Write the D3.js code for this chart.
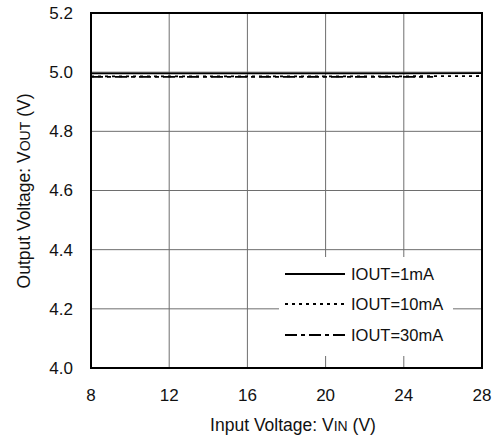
<!DOCTYPE html>
<html><head><meta charset="utf-8">
<script src="https://cdn.jsdelivr.net/npm/d3@7"></script>
<style>body{margin:0;background:#fff}svg{font-family:"Liberation Sans",Arial,sans-serif}</style>
</head><body><svg id="c" width="500" height="440"></svg>
<script>
const xTicks = [8, 12, 16, 20, 24, 28];
const yTicks = [4.0, 4.2, 4.4, 4.6, 4.8, 5.0, 5.2];
const vin1 = [8, 12, 16, 20, 24, 28];
const vout1 = [4.996, 4.996, 4.996, 4.996, 4.996, 4.997];
const vin10 = [8, 12, 16, 20, 24, 28];
const vout10 = [4.986, 4.986, 4.986, 4.986, 4.986, 4.987];
const vin30 = [8, 12, 16, 20, 24, 25.5];
const vout30 = [4.984, 4.984, 4.984, 4.984, 4.984, 4.984];
const seriesNames = ["IOUT=1mA", "IOUT=10mA", "IOUT=30mA"];

const svg = d3.select("#c");
const L = 91, R = 482, T = 13, B = 368;
const x = d3.scaleLinear().domain([8, 28]).range([L, R]);
const y = d3.scaleLinear().domain([4.0, 5.2]).range([B, T]);

// grid
svg.append("g").selectAll("line").data(xTicks.slice(1, -1)).join("line")
  .attr("x1", d => x(d)).attr("x2", d => x(d)).attr("y1", T).attr("y2", B)
  .attr("stroke", "#6e6e6e").attr("stroke-width", 1);
svg.append("g").selectAll("line").data(yTicks.slice(1, -1)).join("line")
  .attr("y1", d => y(d)).attr("y2", d => y(d)).attr("x1", L).attr("x2", R)
  .attr("stroke", "#6e6e6e").attr("stroke-width", 1);

// series
const line = d3.line().x(d => x(d[0])).y(d => y(d[1]));
const series = [
  {xs: vin1, ys: vout1, dash: null},
  {xs: vin10, ys: vout10, dash: "3,4"},
  {xs: vin30, ys: vout30, dash: "12,4,4,4"}
];
series.forEach(s => {
  svg.append("path").datum(s.xs.map((v, i) => [v, s.ys[i]]))
    .attr("d", line).attr("fill", "none").attr("stroke", "#000")
    .attr("stroke-width", 1.8).attr("stroke-dasharray", s.dash);
});

// legend
svg.append("rect").attr("x", 279).attr("y", 257).attr("width", 174).attr("height", 99).attr("fill", "#fff");
const legY = [274, 304, 335];
series.forEach((s, i) => {
  svg.append("line").attr("x1", 285).attr("x2", 345).attr("y1", legY[i]).attr("y2", legY[i])
    .attr("stroke", "#000").attr("stroke-width", 1.8).attr("stroke-dasharray", s.dash);
  svg.append("text").attr("x", 351).attr("y", legY[i]).attr("dy", "0.35em")
    .attr("font-size", 16.5).attr("fill", "#111").text(seriesNames[i]);
});

// border
svg.append("rect").attr("x", L).attr("y", T).attr("width", R - L).attr("height", B - T)
  .attr("fill", "none").attr("stroke", "#000").attr("stroke-width", 2);

// tick labels
svg.append("g").selectAll("text").data(yTicks).join("text")
  .attr("x", 73).attr("y", d => y(d)).attr("dy", "0.35em").attr("text-anchor", "end")
  .attr("font-size", 17).attr("fill", "#111").text(d => d3.format(".1f")(d));
svg.append("g").selectAll("text").data(xTicks).join("text")
  .attr("x", d => x(d)).attr("y", 395).attr("dy", "0.35em").attr("text-anchor", "middle")
  .attr("font-size", 17).attr("fill", "#111").text(d => d);

// axis titles
const xt = svg.append("text").attr("x", 293).attr("y", 425).attr("dy", "0.35em")
  .attr("text-anchor", "middle").attr("font-size", 17.5).attr("fill", "#111");
xt.append("tspan").text("Input Voltage: V");
xt.append("tspan").attr("font-size", 14).text("IN");
xt.append("tspan").text(" (V)");

const yt = svg.append("text").attr("transform", "translate(24,191) rotate(-90)").attr("dy", "0.35em")
  .attr("text-anchor", "middle").attr("font-size", 17.5).attr("fill", "#111");
yt.append("tspan").text("Output Voltage: V");
yt.append("tspan").attr("font-size", 14).text("OUT");
yt.append("tspan").text(" (V)");
</script></body></html>
